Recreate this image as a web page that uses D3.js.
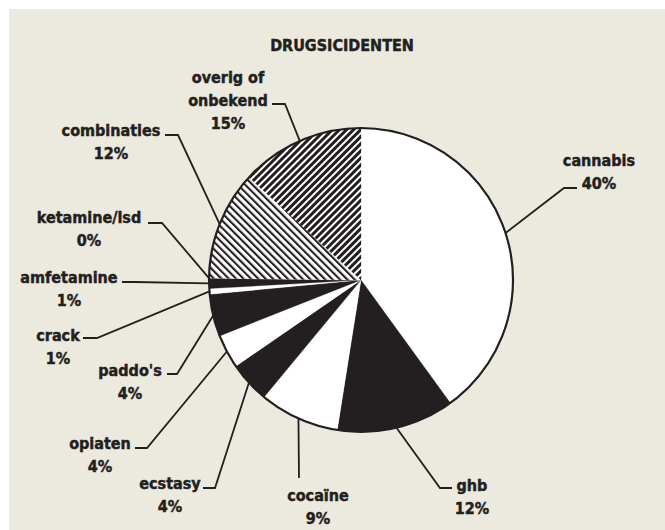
<!DOCTYPE html>
<html><head><meta charset="utf-8">
<script src="https://cdn.jsdelivr.net/npm/d3@7"></script>
<style>
body{margin:0;background:#fff}
text{font-family:"DejaVu Sans Condensed","DejaVu Sans",sans-serif;font-stretch:condensed;font-weight:bold;fill:#231f20;stroke:#231f20;stroke-width:0.45px;font-size:16px}
</style>
</head><body><svg id="c" width="665" height="530"></svg>
<script>
// ---- data ----
const title = "DRUGSICIDENTEN";
const categories = ["cannabis","ghb","cocaïne","ecstasy","opiaten","paddo's","crack","amfetamine","ketamine/lsd","combinaties","overig of onbekend"];
const categoryLines = [["cannabis"],["ghb"],["cocaïne"],["ecstasy"],["opiaten"],["paddo's"],["crack"],["amfetamine"],["ketamine/lsd"],["combinaties"],["overig of","onbekend"]];
// slice shares as measured from the slice angles
const shares = [40, 12.5, 8.5, 4.4, 3.6, 4.5, 0.6, 1.1, 0, 11.6, 13.2];
// printed percentages
const percentLabels = ["40%","12%","9%","4%","4%","4%","1%","1%","0%","12%","15%"];
const fillKinds = ["white","black","white","black","white","black","white","black","white","lightHatch","darkHatch"];

// ---- layout (positions, not data) ----
const W = 665, H = 530;
const center = [361, 280], R = 152;
const ink = "#231f20";
const lineGap = 23;
const labelLayout = [
  {cx:599, cy:160, ty:188, tx0:577, tx1:564},
  {cx:472, cy:485, ty:488, tx0:452, tx1:440},
  {cx:318, cy:495, ty:478, tx0:299, tx1:299},
  {cx:170, cy:483, ty:488, tx0:203, tx1:215},
  {cx:100, cy:443, ty:448, tx0:135, tx1:147},
  {cx:130, cy:370, ty:374, tx0:167, tx1:177},
  {cx:58,  cy:335, ty:338, tx0:83,  tx1:97},
  {cx:69,  cy:277, ty:282, tx0:122, tx1:135},
  {cx:89,  cy:217, ty:223, tx0:148, tx1:162},
  {cx:111, cy:130, ty:135, tx0:165, tx1:178},
  {cx:228, cy:77,  ty:104, tx0:272, tx1:285}
];

const svg = d3.select("#c");
svg.append("rect").attr("width",W).attr("height",H).attr("fill","#fff");
svg.append("rect").attr("x",9).attr("y",9).attr("width",W-9).attr("height",H-9).attr("fill","#ece9df");

const defs = svg.append("defs");
const p1 = defs.append("pattern").attr("id","lightHatch").attr("patternUnits","userSpaceOnUse")
  .attr("width",5.2).attr("height",5.2).attr("patternTransform","rotate(-45)");
p1.append("rect").attr("width",5.2).attr("height",5.2).attr("fill","#fff");
p1.append("rect").attr("width",2.1).attr("height",5.2).attr("fill",ink);
const p2 = defs.append("pattern").attr("id","darkHatch").attr("patternUnits","userSpaceOnUse")
  .attr("width",5).attr("height",5).attr("patternTransform","rotate(45)");
p2.append("rect").attr("width",5).attr("height",5).attr("fill",ink);
p2.append("rect").attr("width",2).attr("height",5).attr("fill","#fff");

const fillOf = k => k==="white" ? "#fff" : k==="black" ? ink : `url(#${k})`;

svg.append("text").attr("x",342).attr("y",51).attr("text-anchor","middle").text(title);

const pie = d3.pie().sort(null).value(d=>d);
const arcs = pie(shares);
const arc = d3.arc().innerRadius(0).outerRadius(R);
const edge = d3.arc().innerRadius(R).outerRadius(R);

const g = svg.append("g").attr("transform",`translate(${center[0]},${center[1]})`);
g.selectAll("path.slice").data(arcs).join("path").attr("class","slice")
  .attr("d",arc).attr("fill",(d,i)=>fillOf(fillKinds[i]))
  .attr("stroke",(d,i)=>fillOf(fillKinds[i])).attr("stroke-width",0.3);
g.append("circle").attr("r",R).attr("fill","none").attr("stroke",ink).attr("stroke-width",2.2);

// leaders
const leaders = svg.append("g");
arcs.forEach((d,i)=>{
  const L = labelLayout[i];
  const c = edge.centroid(d);
  const pt = [center[0]+c[0], center[1]+c[1]];
  leaders.append("path")
    .attr("d", d3.line()([[L.tx0,L.ty],[L.tx1,L.ty],pt]))
    .attr("fill","none").attr("stroke",ink).attr("stroke-width",1.8);
  const lines = categoryLines[i].concat([percentLabels[i]]);
  lines.forEach((t,j)=>{
    svg.append("text").attr("x",L.cx).attr("y",L.cy+6+j*lineGap)
      .attr("text-anchor","middle").text(t);
  });
});
</script></body></html>
